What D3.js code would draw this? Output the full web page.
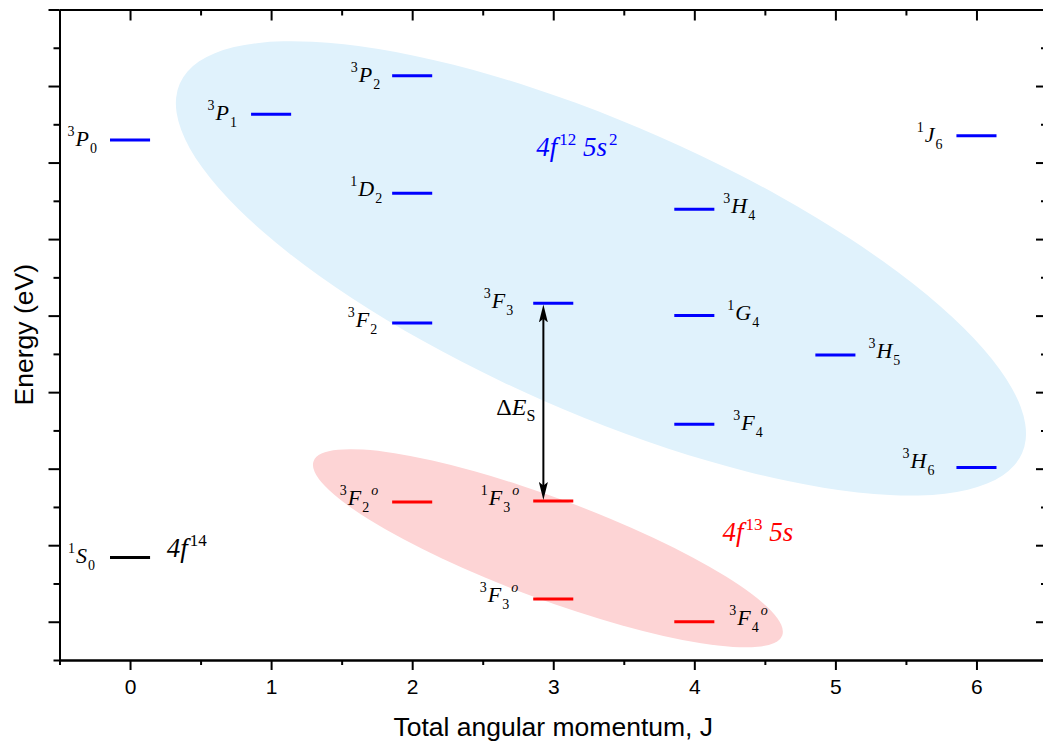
<!DOCTYPE html>
<html>
<head>
<meta charset="utf-8">
<script src="https://cdn.jsdelivr.net/npm/d3@7"></script>
<style>
  html, body { margin: 0; padding: 0; background: #fff; }
  svg { display: block; }
</style>
</head>
<body>
<script>
// Energy-level diagram of the low-lying terms, grouped by configuration.

// --- data -------------------------------------------------------------
const levelMult   = ["3", "3", "3", "1", "3", "3", "3", "1", "3", "3", "3", "1", "1", "3", "1", "3", "3"];
const levelTerm   = ["P", "P", "P", "D", "F", "F", "H", "G", "H", "F", "H", "J", "S", "F", "F", "F", "F"];
const levelJ      = [0, 1, 2, 2, 2, 3, 4, 4, 5, 4, 6, 6, 0, 2, 3, 3, 4];
const levelParity = ["", "", "", "", "", "", "", "", "", "", "", "", "", "o", "o", "o", "o"];
const levelEnergy = [6.295, 6.63, 7.135, 5.60, 3.905, 4.16, 5.39, 4.00, 3.487, 2.58, 2.015, 6.35,
                     0.84, 1.563, 1.576, 0.296, 0.0];
const levelConfig = ["4f12 5s2", "4f12 5s2", "4f12 5s2", "4f12 5s2", "4f12 5s2", "4f12 5s2",
                     "4f12 5s2", "4f12 5s2", "4f12 5s2", "4f12 5s2", "4f12 5s2", "4f12 5s2",
                     "4f14", "4f13 5s", "4f13 5s", "4f13 5s", "4f13 5s"];

// term-label placement: side of the level bar, gap in px, baseline shift in px
const labelSide = ["L", "L", "L", "L", "L", "L", "R", "R", "R", "R", "L", "L", "L", "L", "L", "L", "R"];
const labelGap  = [13, 14, 12, 10, 15, 20, 9, 13, 13, 19, 22, 14, 15, 14, 14, 15, 15];
const labelDy   = [6, 6, 6, 3, 4, 5, 4, 4, 3, 6, 0, 6, 6, 3, 4, 3, 3];

const configNames  = ["4f12 5s2", "4f14", "4f13 5s"];
const configColors = ["#0000ff", "#000000", "#ff0000"];

// configuration captions: [base, superscript] pieces
const captionPieces = [
  [["4f", "12"], ["\u00a05s", "2"]],
  [["4f", "14"]],
  [["4f", "13"], ["\u00a05s", ""]]
];
const captionJ = [2.88, 0.26, 4.2];
const captionE = [6.08, 0.84, 1.05];

// shaded groups: centre (J, E), semi-axes in J units, tilt in degrees
const groupNames  = ["4f12 5s2", "4f13 5s"];
const groupJ      = [3.338, 2.962];
const groupE      = [4.617, 0.96];
const groupRx     = [3.26, 1.772];
const groupRy     = [1.022, 0.357];
const groupTilt   = [23.7, 20.4];
const groupColors = ["#e0f2fc", "#fdd4d5"];

// splitting arrow between the 3F3 and 1F3o levels
const splitFrom = 5;   // index into the level arrays
const splitTo   = 14;
const splitJ    = 2.93;

const xTicksMajor = [0, 1, 2, 3, 4, 5, 6];
const xTicksMinor = [-0.5, 0.5, 1.5, 2.5, 3.5, 4.5, 5.5, 6.5];
const yTicksMajor = [0, 1, 2, 3, 4, 5, 6, 7, 8];
const yTicksMinor = [-0.5, 0.5, 1.5, 2.5, 3.5, 4.5, 5.5, 6.5, 7.5];

// --- layout -----------------------------------------------------------
const W = 1043, H = 745;
const margin = { left: 59.5, right: -4, top: 9.5, bottom: 85 };
const barHalf = 0.142;

const svg = d3.select("body").append("svg")
  .attr("width", W).attr("height", H);

const x = d3.scaleLinear().domain([-0.5, 6.5]).range([margin.left, W - margin.right]);
const y = d3.scaleLinear().domain([-0.5, 8]).range([H - margin.bottom, margin.top]);
const unit = x(1) - x(0);
const color = d3.scaleOrdinal().domain(configNames).range(configColors);

const serif = "Liberation Serif";
const sans  = "Liberation Sans";

// shaded configuration groups
svg.append("g").selectAll("ellipse")
  .data(groupNames)
  .join("ellipse")
  .attr("transform", (d, i) => `translate(${x(groupJ[i])},${y(groupE[i])}) rotate(${groupTilt[i]})`)
  .attr("rx", (d, i) => groupRx[i] * unit)
  .attr("ry", (d, i) => groupRy[i] * unit)
  .attr("fill", (d, i) => groupColors[i]);

// axes
const plot = svg.append("g");
function styleAxis(g) {
  g.selectAll("path, line").attr("stroke", "#000").attr("stroke-width", 2);
  g.selectAll("text").remove();
}
const bottom = H - margin.bottom;
const right = W - margin.right;

plot.append("g").attr("transform", `translate(0,${bottom})`)
  .call(d3.axisBottom(x).tickValues(xTicksMinor).tickSize(5).tickSizeOuter(0).tickFormat(""))
  .call(styleAxis);
const xAxisG = plot.append("g").attr("transform", `translate(0,${bottom})`)
  .call(d3.axisBottom(x).tickValues(xTicksMajor).tickSize(10).tickSizeOuter(0).tickPadding(9).tickFormat(d3.format("d")));
xAxisG.selectAll("path, line").attr("stroke", "#000").attr("stroke-width", 2);
xAxisG.selectAll("text").attr("font-family", sans).attr("font-size", 21).attr("fill", "#000");

plot.append("g").attr("transform", `translate(0,${margin.top})`)
  .call(d3.axisTop(x).tickValues(xTicksMinor).tickSize(-6).tickSizeOuter(0).tickFormat(""))
  .call(styleAxis);
plot.append("g").attr("transform", `translate(0,${margin.top})`)
  .call(d3.axisTop(x).tickValues(xTicksMajor).tickSize(-11).tickSizeOuter(0).tickFormat(""))
  .call(styleAxis);

plot.append("g").attr("transform", `translate(${margin.left},0)`)
  .call(d3.axisLeft(y).tickValues(yTicksMinor).tickSize(6).tickSizeOuter(0).tickFormat(""))
  .call(styleAxis);
plot.append("g").attr("transform", `translate(${margin.left},0)`)
  .call(d3.axisLeft(y).tickValues(yTicksMajor).tickSize(11).tickSizeOuter(0).tickFormat(""))
  .call(styleAxis);

plot.append("g").attr("transform", `translate(${right},0)`)
  .call(d3.axisRight(y).tickValues(yTicksMinor).tickSize(-6).tickSizeOuter(0).tickFormat(""))
  .call(styleAxis);
plot.append("g").attr("transform", `translate(${right},0)`)
  .call(d3.axisRight(y).tickValues(yTicksMajor).tickSize(-11).tickSizeOuter(0).tickFormat(""))
  .call(styleAxis);

// axis titles
svg.append("text")
  .attr("x", (margin.left + right) / 2).attr("y", 736)
  .attr("text-anchor", "middle")
  .attr("font-family", sans).attr("font-size", 26.5).attr("fill", "#000")
  .text("Total angular momentum, J");

svg.append("text")
  .attr("transform", `translate(33,${(margin.top + bottom) / 2}) rotate(-90)`)
  .attr("text-anchor", "middle")
  .attr("font-family", sans).attr("font-size", 26.5).attr("fill", "#000")
  .text("Energy (eV)");

// level bars
const idx = d3.range(levelJ.length);
svg.append("g").selectAll("line")
  .data(idx)
  .join("line")
  .attr("x1", i => x(levelJ[i] - barHalf))
  .attr("x2", i => x(levelJ[i] + barHalf))
  .attr("y1", i => y(levelEnergy[i]))
  .attr("y2", i => y(levelEnergy[i]))
  .attr("stroke", i => color(levelConfig[i]))
  .attr("stroke-width", 3);

// term symbols  ^{2S+1}L_J (with parity mark)
const labels = svg.append("g").selectAll("text")
  .data(idx)
  .join("text")
  .attr("x", i => labelSide[i] === "L"
    ? x(levelJ[i] - barHalf) - labelGap[i]
    : x(levelJ[i] + barHalf) + labelGap[i])
  .attr("y", i => y(levelEnergy[i]) + labelDy[i])
  .attr("text-anchor", i => labelSide[i] === "L" ? "end" : "start")
  .attr("font-family", serif)
  .attr("fill", "#000");

labels.append("tspan").attr("font-size", 14).attr("dy", -10).text(i => levelMult[i]);
labels.append("tspan").attr("font-size", 22).attr("font-style", "italic").attr("dx", 1).attr("dy", 10)
  .text(i => levelTerm[i]);
labels.append("tspan").attr("font-size", 14).attr("dx", 1).attr("dy", 7).text(i => levelJ[i]);
labels.filter(i => levelParity[i] !== "")
  .append("tspan").attr("font-size", 14).attr("font-style", "italic").attr("dx", 2).attr("dy", -17)
  .text(i => levelParity[i]);

// configuration captions
const captions = svg.append("g").selectAll("text")
  .data(configNames)
  .join("text")
  .attr("x", (d, i) => x(captionJ[i]))
  .attr("y", (d, i) => y(captionE[i]))
  .attr("font-family", serif)
  .attr("fill", d => color(d));

captions.each(function (d, i) {
  const t = d3.select(this);
  let raised = false;
  captionPieces[i].forEach(([base, sup]) => {
    t.append("tspan").attr("font-size", 27).attr("font-style", "italic")
      .attr("dy", raised ? 11 : 0)
      .text(base);
    raised = false;
    if (sup) {
      t.append("tspan").attr("font-size", 17).attr("dx", 2).attr("dy", -11).text(sup);
      raised = true;
    }
  });
});

// splitting arrow
const defs = svg.append("defs");
defs.append("marker")
  .attr("id", "head")
  .attr("viewBox", "0 0 20 10")
  .attr("refX", 19).attr("refY", 5)
  .attr("markerWidth", 18).attr("markerHeight", 9)
  .attr("markerUnits", "userSpaceOnUse")
  .attr("orient", "auto-start-reverse")
  .append("path").attr("d", "M0,0 L20,5 L0,10 L4,5 Z").attr("fill", "#000");

const ay1 = y(levelEnergy[splitFrom]) + 2;
const ay2 = y(levelEnergy[splitTo]) - 2;
svg.append("line")
  .attr("x1", x(splitJ)).attr("x2", x(splitJ))
  .attr("y1", ay1 + 6).attr("y2", ay2 - 6)
  .attr("stroke", "#000").attr("stroke-width", 2);
svg.append("line")
  .attr("x1", x(splitJ)).attr("x2", x(splitJ))
  .attr("y1", ay1 + 8).attr("y2", ay1)
  .attr("stroke", "none")
  .attr("marker-end", "url(#head)");
svg.append("line")
  .attr("x1", x(splitJ)).attr("x2", x(splitJ))
  .attr("y1", ay2 - 8).attr("y2", ay2)
  .attr("stroke", "none")
  .attr("marker-end", "url(#head)");

const dE = svg.append("text")
  .attr("x", x(splitJ) - 8).attr("y", y((levelEnergy[splitFrom] + levelEnergy[splitTo]) / 2) + 13)
  .attr("text-anchor", "end")
  .attr("font-family", serif).attr("fill", "#000");
dE.append("tspan").attr("font-size", 24).text("\u0394");
dE.append("tspan").attr("font-size", 24).attr("font-style", "italic").text("E");
dE.append("tspan").attr("font-size", 16).attr("dy", 6).text("S");
</script>
</body>
</html>
